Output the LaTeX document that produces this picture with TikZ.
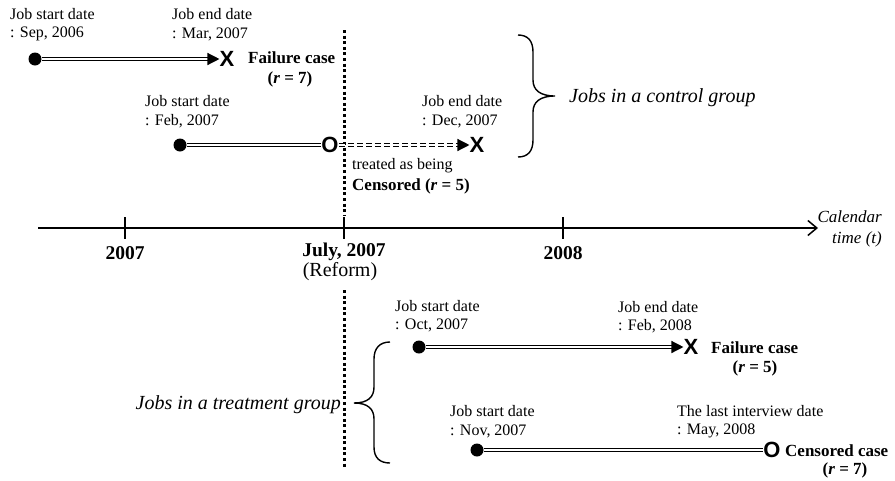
\documentclass[tikz,border=0pt]{standalone}
\usepackage{fontspec}
\setmainfont{Liberation Serif}
\setsansfont{Liberation Sans}
\usetikzlibrary{arrows.meta,calc}
\begin{document}
\begin{tikzpicture}[x=1pt,y=-1pt,
 lbl/.style={font=\fontsize{16}{18}\selectfont, inner sep=0pt, anchor=west},
 bl/.style={font=\fontsize{17}{19}\selectfont\bfseries, inner sep=0pt},
 ax/.style={font=\fontsize{19.5}{21}\selectfont\bfseries, inner sep=0pt},
 grp/.style={font=\fontsize{20}{22}\selectfont\itshape, inner sep=0pt},
 cal/.style={font=\fontsize{17}{19}\selectfont\itshape, inner sep=0pt, anchor=east},
 dotnode/.style={circle, fill, inner sep=0pt, minimum size=13pt},
 xnode/.style={font=\fontsize{22}{23}\selectfont\sffamily\bfseries, inner sep=0pt},
 dbl/.style={line width=1.3pt, double=white, double distance=1.5pt},
 tipa/.style={-{Triangle[length=12pt,width=12pt]}},
 dotv/.style={line width=3pt, dash pattern=on 3pt off 2.6pt},
 brc/.style={line width=1.4pt},
]
\useasboundingbox (0,0) rectangle (895,480);

% timeline
\coordinate (t0) at (38,228);
\coordinate (t1) at (818,228);
\draw[line width=1.6pt, -{Straight Barb[length=9pt,width=15pt,line width=1.5pt]}] (t0) -- (t1);
\foreach \xx/\nm in {125/a,344/b,563/c}{
  \coordinate (tk\nm u) at (\xx,217);
  \coordinate (tk\nm d) at (\xx,239);
  \draw[line width=2pt] (tk\nm u) -- (tk\nm d);
}
\node[ax] (l2007) at (125,253) {2007};
\node[ax] (ljuly) at (344,252) {July, 2007};
\node[font=\fontsize{20}{22}\selectfont, inner sep=0pt] (lref) at (340,272) {(Reform)};
\node[ax] (l2008) at (563,253) {2008};
\node[cal] (cal1) at (882,217) {Calendar};
\node[cal] (cal2) at (882,239) {time (\textit{t})};

% reform dotted line
\coordinate (v0) at (344,30);
\coordinate (v1) at (344,215);
\coordinate (v2) at (344,290);
\coordinate (v3) at (344,469);
\draw[dotv] (v0) -- (v1);
\draw[dotv] (v2) -- (v3);

% row 1
\node[dotnode] (d1) at (35,59) {};
\node[xnode] (x1) at (227,59) {X};
\draw[dbl, tipa] (d1.east) -- (x1.west);
\node[lbl] (s1a) at (10,14) {Job start date};
\node[lbl] (s1b) at (10,34) {: Sep, 2006};
\node[lbl] (e1a) at (172,14) {Job end date};
\node[lbl] (e1b) at (172,34) {: Mar, 2007};
\node[bl, anchor=west] (f1) at (248,58) {Failure case};
\node[bl] (r1) at (290,79) {(\textit{r} = 7)};

% row 2
\node[dotnode] (d2) at (180,145) {};
\node[xnode] (o2) at (330,145) {O};
\node[xnode] (x2) at (477,145) {X};
\draw[dbl] (d2.east) -- (o2.west);
\draw[dbl, dash pattern=on 6pt off 3pt, tipa] (o2.east) -- (x2.west);
\node[lbl] (s2a) at (145,101) {Job start date};
\node[lbl] (s2b) at (145,121) {: Feb, 2007};
\node[lbl] (e2a) at (422,101) {Job end date};
\node[lbl] (e2b) at (422,121) {: Dec, 2007};
\node[lbl] (tr2) at (352,166) {treated as being};
\node[bl, anchor=west] (c2) at (352,186) {Censored (\textit{r} = 5)};

% control brace
\coordinate (cb0) at (518,35);
\coordinate (cb1) at (555,96);
\coordinate (cb2) at (518,157);
\draw[brc] (cb0) .. controls (528,35) and (533,41) .. (533,52) -- (533,80)
  .. controls (533,90) and (540,96) .. (cb1)
  .. controls (540,96) and (533,102) .. (533,112) -- (533,140)
  .. controls (533,151) and (528,157) .. (cb2);
\node[grp, anchor=west] (cg) at (569,98) {Jobs in a control group};

% row 3
\node[dotnode] (d3) at (419,347) {};
\node[xnode] (x3) at (691,347) {X};
\draw[dbl, tipa] (d3.east) -- (x3.west);
\node[lbl] (s3a) at (395,306) {Job start date};
\node[lbl] (s3b) at (395,325) {: Oct, 2007};
\node[lbl] (e3a) at (618,307) {Job end date};
\node[lbl] (e3b) at (618,326) {: Feb, 2008};
\node[bl, anchor=west] (f3) at (711,348) {Failure case};
\node[bl] (r3) at (755,368) {(\textit{r} = 5)};

% row 4
\node[dotnode] (d4) at (477,450) {};
\node[xnode] (o4) at (772,450) {O};
\draw[dbl] (d4.east) -- (o4.west);
\node[lbl] (s4a) at (450,411) {Job start date};
\node[lbl] (s4b) at (450,431) {: Nov, 2007};
\node[lbl] (e4a) at (677,411) {The last interview date};
\node[lbl] (e4b) at (677,431) {: May, 2008};
\node[bl, anchor=west] (c4) at (785,451) {Censored case};
\node[bl] (r4) at (845,470) {(\textit{r} = 7)};

% treatment brace
\coordinate (tb0) at (390,342);
\coordinate (tb1) at (354,403);
\coordinate (tb2) at (390,463);
\draw[brc] (tb0) .. controls (380,342) and (374,348) .. (374,359) -- (374,387)
  .. controls (374,397) and (368,403) .. (tb1)
  .. controls (368,403) and (374,409) .. (374,419) -- (374,447)
  .. controls (374,458) and (380,463) .. (tb2);
\node[grp, anchor=east] (tg) at (341,405) {Jobs in a treatment group};
\end{tikzpicture}
\end{document}
